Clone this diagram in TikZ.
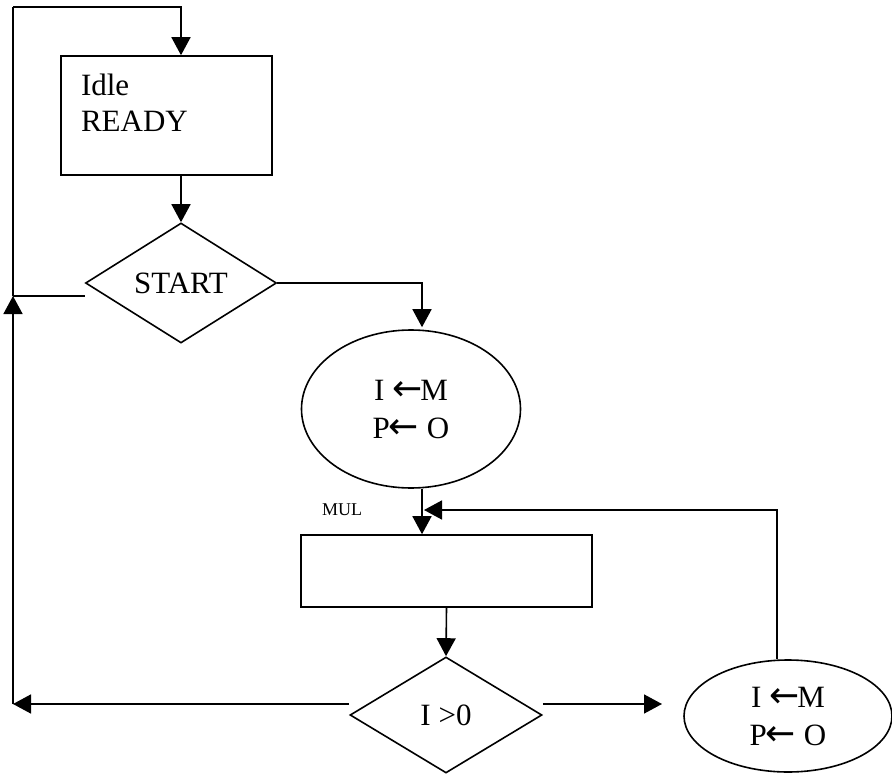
\documentclass[tikz,border=0pt]{standalone}
\usepackage{fontspec}
\setmainfont{Liberation Serif}
\newfontfamily\arrowfont{DejaVu Sans}
\usetikzlibrary{shapes.geometric,arrows.meta,positioning}

\newcommand{\getsarrow}{{\arrowfont\fontsize{36}{36}\selectfont ←}}

\begin{document}
\begin{tikzpicture}[x=1pt, y=-1pt, line width=1.6pt,
  font=\fontsize{31}{36}\selectfont,
  flow/.style={-{Triangle[length=18pt,width=19pt]}},
  box/.style={draw, rectangle, inner sep=0pt},
  test/.style={draw, diamond, inner sep=0pt, aspect=1.6},
  act/.style={draw, ellipse, inner sep=0pt, align=center, font=\fontsize{31}{38}\selectfont}]
  \useasboundingbox (0,0) rectangle (892,776);
  % ---- states and tests ----
  \node[box, minimum width=211pt, minimum height=119pt] (idle) at (166.5,115.5) {};
  \node[anchor=north west, align=left, inner sep=0pt] (idletxt) at ([shift={(20pt,-18pt)}]idle.north west) {Idle\\READY};
  \node[test, minimum width=191pt, minimum height=120pt] (start) at (181,283) {START};
  \node[act, minimum width=219pt, minimum height=158pt] (load) at (411,409) {I \getsarrow\kern-2pt M\\P\kern-1pt\getsarrow\ O};
  \node[box, minimum width=291pt, minimum height=72pt] (mul) at (446.5,571) {};
  \node[font=\fontsize{18}{18}\selectfont] (mullbl) at (342,510) {MUL};
  \node[test, minimum width=192pt, minimum height=116pt] (check) at (446,715) {I >0};
  \node[act, minimum width=208pt, minimum height=112pt] (reload) at (788,716) {I \getsarrow\kern-2pt M\\P\kern-1pt\getsarrow\ O};
  % ---- rail on the left and loose ends ----
  \coordinate (railtop) at (13,7);
  \coordinate (railjoin) at (13,296);
  \coordinate (railbot) at (13,704);
  \coordinate (outr) at (662,704);
  \coordinate (back) at (424,510);
  % ---- connectors ----
  \draw[flow] (railtop) -| (start.north |- idle.north);
  \draw[flow] (start.north |- idle.south) -- (start.north);
  \draw[flow] (start.east) -| ([xshift=11pt,yshift=2pt]load.north);
  \draw ([yshift=-13pt]start.west) -- (railjoin);
  \draw[flow] ([xshift=11pt]load.south) -- ([xshift=11pt]load.south |- mul.north);
  \draw[flow] (mul.south) -- (check.north);
  \draw[flow] ([yshift=11pt]check.west) -- (railbot);
  \draw[flow] (railbot) -- (railjoin);
  \draw (railjoin) -- (railtop);
  \draw[flow] ([yshift=11pt]check.east) -- (outr);
  \draw[flow] ([xshift=-11pt]reload.north) |- (back);
\end{tikzpicture}
\end{document}
